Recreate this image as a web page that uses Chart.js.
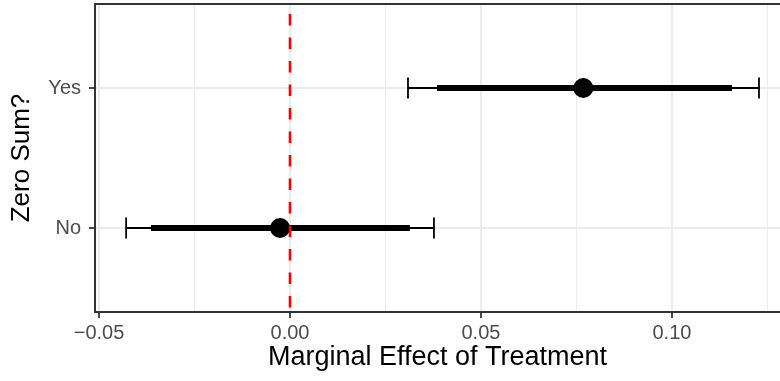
<!DOCTYPE html>
<html>
<head>
<meta charset="utf-8">
<script src="https://cdn.jsdelivr.net/npm/chart.js@4.4.1/dist/chart.umd.min.js"></script>
<style>
  html, body { margin: 0; padding: 0; background: #ffffff; }
  #wrap { width: 780px; height: 381px; }
</style>
</head>
<body>
<div id="wrap"><canvas id="c" width="780" height="381"></canvas></div>
<script>
// ---- data ----
const categories = ['No', 'Yes'];
const estimates = [-0.0026, 0.0768];
const innerLow = [-0.0364, 0.0385];
const innerHigh = [0.0314, 0.1157];
const outerLow = [-0.0429, 0.0309];
const outerHigh = [0.0377, 0.1228];
const referenceX = 0;
const xMajorTicks = [-0.05, 0, 0.05, 0.10];
const xTickLabels = ['\u22120.05', '0.00', '0.05', '0.10'];
const xMinorTicks = [-0.025, 0.025, 0.075, 0.125];
const xLimits = [-0.05105, 0.1283];
const yLimits = [0.4, 2.6];

const FONT = '"Liberation Sans", Arial, Helvetica, sans-serif';
const catY = categories.map((c, i) => i + 1);
const allXTicks = xMajorTicks.concat(xMinorTicks).sort((a, b) => a - b);
const isMajor = v => xMajorTicks.some(m => Math.abs(m - v) < 1e-9);
const noPad = s => { s.paddingTop = 0; s.paddingBottom = 0; s.paddingLeft = 0; s.paddingRight = 0; };

const datasets = [];
// reference dashed line (on top)
datasets.push({
  data: [{x: referenceX, y: yLimits[1]}, {x: referenceX, y: yLimits[0]}],
  showLine: true, borderColor: '#ff0000', borderWidth: 2.6,
  borderDash: [11.5, 12], borderDashOffset: 13.5,
  pointRadius: 0, order: 0, borderCapStyle: 'butt'
});
// points
datasets.push({
  data: categories.map((c, i) => ({x: estimates[i], y: catY[i]})),
  showLine: false, pointRadius: 10, pointBackgroundColor: '#000', pointBorderWidth: 0,
  pointBorderColor: '#000', order: 1
});
// thick intervals
categories.forEach((c, i) => {
  datasets.push({
    data: [{x: innerLow[i], y: catY[i]}, {x: innerHigh[i], y: catY[i]}],
    showLine: true, borderColor: '#000', borderWidth: 6, borderCapStyle: 'butt',
    pointRadius: 0, order: 2
  });
});
// thin intervals with caps
categories.forEach((c, i) => {
  datasets.push({
    data: [{x: outerLow[i], y: catY[i]}, {x: outerHigh[i], y: catY[i]}],
    showLine: true, borderColor: '#000', borderWidth: 1.8, borderCapStyle: 'butt',
    pointStyle: 'line', pointRotation: 90, pointRadius: 10.5,
    pointBorderWidth: 1.8, pointBorderColor: '#000', order: 3
  });
});

const topBorder = {
  id: 'topBorder',
  afterDatasetsDraw(chart) {
    const a = chart.chartArea, ctx = chart.ctx;
    ctx.save();
    ctx.strokeStyle = '#333333';
    ctx.lineWidth = 2;
    ctx.beginPath();
    ctx.moveTo(a.left - 1, a.top);
    ctx.lineTo(chart.width, a.top);
    ctx.stroke();
    ctx.restore();
  }
};

new Chart(document.getElementById('c'), {
  type: 'scatter',
  data: { datasets },
  plugins: [topBorder],
  options: {
    responsive: false,
    animation: false,
    devicePixelRatio: 1,
    layout: { autoPadding: false, padding: { top: 4, right: 0, left: 0, bottom: 0 } },
    plugins: { legend: { display: false }, tooltip: { enabled: false } },
    scales: {
      x: {
        type: 'linear', min: xLimits[0], max: xLimits[1],
        afterBuildTicks: s => { s.ticks = allXTicks.map(v => ({value: v})); },
        afterFit: s => { s.height = 69; noPad(s); },
        ticks: {
          autoSkip: false, maxRotation: 0, padding: 3,
          color: '#4d4d4d', font: { family: FONT, size: 20 },
          callback: v => { const k = xMajorTicks.findIndex(m => Math.abs(m - v) < 1e-9); return k >= 0 ? xTickLabels[k] : ''; }
        },
        grid: {
          color: '#ebebeb',
          lineWidth: ctx => (ctx.tick && isMajor(ctx.tick.value)) ? 2 : 1,
          tickColor: ctx => (ctx.tick && isMajor(ctx.tick.value)) ? '#333333' : 'rgba(0,0,0,0)',
          tickLength: 6, tickWidth: 1.8
        },
        border: { display: true, color: '#333333', width: 2 },
        title: {
          display: true, text: 'Marginal Effect of Treatment', color: '#000',
          font: { family: FONT, size: 27, lineHeight: 1.2 }, padding: { top: 7.5, bottom: 7.5 }
        }
      },
      y: {
        type: 'linear', min: yLimits[0], max: yLimits[1],
        afterBuildTicks: s => { s.ticks = catY.map(v => ({value: v})); },
        afterFit: s => { s.width = 95; noPad(s); },
        ticks: {
          autoSkip: false, padding: 8, color: '#4d4d4d', font: { family: FONT, size: 20 },
          callback: v => { const k = catY.indexOf(v); return k >= 0 ? categories[k] : ''; }
        },
        grid: { color: '#ebebeb', lineWidth: 2, tickColor: '#333333', tickLength: 6, tickWidth: 1.8 },
        border: { display: true, color: '#333333', width: 2 },
        title: {
          display: true, text: 'Zero Sum?', color: '#000',
          font: { family: FONT, size: 26, lineHeight: 1.2 }, padding: { top: 6, bottom: 6 }
        }
      }
    }
  }
});
</script>
</body>
</html>
